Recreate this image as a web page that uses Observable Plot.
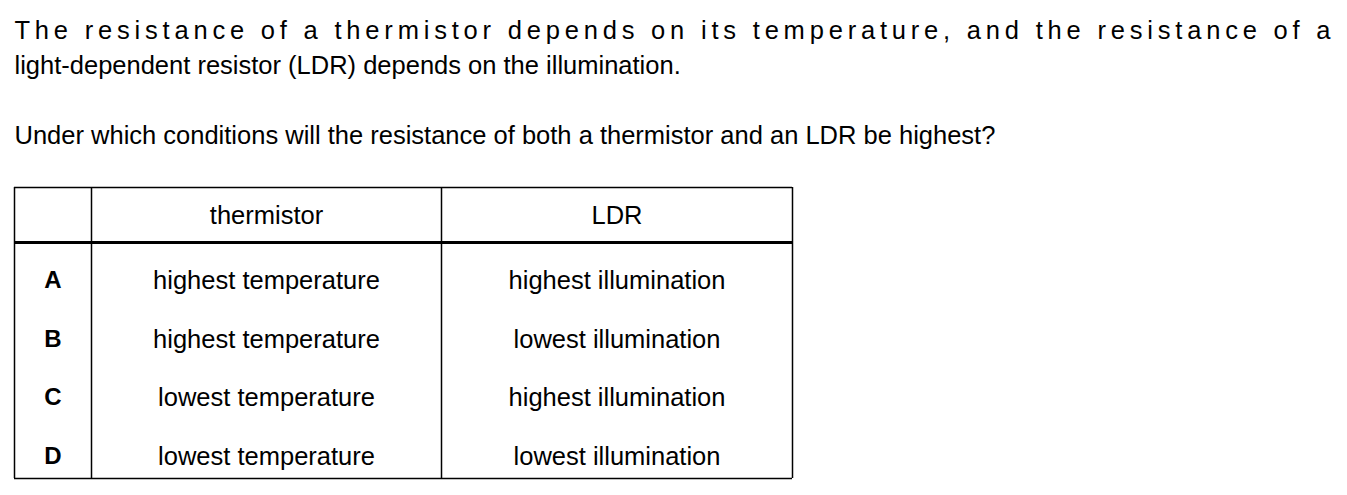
<!DOCTYPE html>
<html><head><meta charset="utf-8">
<script src="https://cdn.jsdelivr.net/npm/d3@7"></script>
<script src="https://cdn.jsdelivr.net/npm/@observablehq/plot@0.6"></script>
<style>body{margin:0;background:#fff}</style>
</head><body><div id="chart"></div>
<script>
const intro = [
  "The resistance of a thermistor depends on its temperature, and the resistance of a",
  "light-dependent resistor (LDR) depends on the illumination."
]
const question = "Under which conditions will the resistance of both a thermistor and an LDR be highest?"
const headers = ["", "thermistor", "LDR"]
const options = ["A", "B", "C", "D"]
const thermistor = ["highest temperature", "highest temperature", "lowest temperature", "lowest temperature"]
const ldr = ["highest illumination", "lowest illumination", "highest illumination", "lowest illumination"]

const W = 1347, H = 495
const cols = [14, 91, 441, 792]
const rowsY = [280, 339, 397, 456]
const tableTop = 187, headBot = 242, tableBot = 478

const textLines = [
  {t: intro[0], x: 14, y: 30},
  {t: intro[1], x: 14, y: 65},
  {t: question, x: 14, y: 135}
]
const cells = []
headers.forEach((h, i) => cells.push({t: h, x: (cols[i] + cols[i + 1]) / 2, y: 215, bold: false}))
options.forEach((o, r) => {
  cells.push({t: o, x: (cols[0] + cols[1]) / 2, y: rowsY[r], bold: true})
  cells.push({t: thermistor[r], x: (cols[1] + cols[2]) / 2, y: rowsY[r], bold: false})
  cells.push({t: ldr[r], x: (cols[2] + cols[3]) / 2, y: rowsY[r], bold: false})
})

const chart = Plot.plot({
  width: W, height: H, margin: 0,
  x: {domain: [0, W], range: [0, W], axis: null},
  y: {domain: [0, H], range: [0, H], axis: null},
  style: {fontFamily: "Liberation Sans, Arial, sans-serif", background: "#fff"},
  marks: [
    Plot.text(textLines, {x: "x", y: "y", text: "t", textAnchor: "start", fontSize: 25.5, fill: "#000"}),
    Plot.text(cells.filter(d => !d.bold), {x: "x", y: "y", text: "t", fontSize: 25.5, fill: "#000"}),
    Plot.text(cells.filter(d => d.bold), {x: "x", y: "y", text: "t", fontSize: 24, fontWeight: "bold", fill: "#000"}),
    Plot.ruleY([tableTop, tableBot], {x1: cols[0], x2: cols[3], stroke: "#000", strokeWidth: 1.5}),
    Plot.ruleY([headBot], {x1: cols[0], x2: cols[3], stroke: "#000", strokeWidth: 3}),
    Plot.ruleX(cols, {y1: tableTop, y2: tableBot, stroke: "#000", strokeWidth: 1.5})
  ]
})
d3.select('#chart').append(() => chart)
// justify the first paragraph line
d3.select(chart).selectAll("text").filter(function() { return this.textContent === intro[0] })
  .attr("textLength", 1316).attr("lengthAdjust", "spacing")
</script>
</body></html>
